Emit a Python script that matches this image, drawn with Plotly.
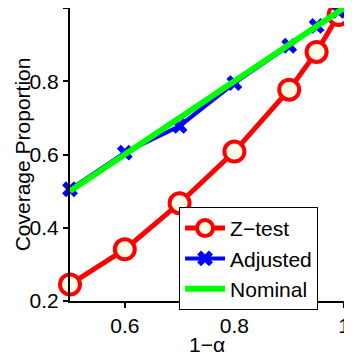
import plotly.graph_objects as go

# confidence levels 1-alpha
conf_levels = [0.5, 0.6, 0.7, 0.8, 0.9, 0.95, 0.99]
# empirical coverage of the plain z-test interval
ztest_coverage = [0.245, 0.341, 0.467, 0.608, 0.777, 0.880, 0.981]
# coverage after adjustment
adjusted_coverage = [0.505, 0.605, 0.678, 0.795, 0.897, 0.951, 0.992]
# nominal coverage (the diagonal)
nominal_x = [0.5, 1.0]
nominal_y = [0.5, 1.0]

FONT = "Liberation Sans, Arial, sans-serif"
FSIZE = 21

fig = go.Figure()

fig.add_trace(
    go.Scatter(
        x=conf_levels,
        y=ztest_coverage,
        mode="lines+markers",
        name="Z\u2212test",
        cliponaxis=False,
        line=dict(color="#ff0000", width=5),
        marker=dict(
            symbol="circle",
            size=20,
            color="#fffde8",
            line=dict(color="#ff0000", width=4),
        ),
    )
)
fig.add_trace(
    go.Scatter(
        x=conf_levels,
        y=adjusted_coverage,
        mode="lines+markers",
        name="Adjusted",
        cliponaxis=False,
        line=dict(color="#0000ff", width=4),
        marker=dict(symbol="x", size=14, color="#0000ff"),
    )
)
fig.add_trace(
    go.Scatter(
        x=nominal_x,
        y=nominal_y,
        mode="lines",
        name="Nominal",
        cliponaxis=False,
        line=dict(color="#00ff00", width=6),
    )
)

axis_style = dict(
    showline=True,
    linecolor="black",
    linewidth=2,
    mirror="allticks",
    ticks="outside",
    ticklen=5,
    tickwidth=2,
    tickcolor="black",
    showgrid=False,
    zeroline=False,
    automargin=False,
    tickfont=dict(family=FONT, size=FSIZE, color="black"),
)

title_font = dict(family=FONT, size=FSIZE, color="black")

# the page body adds an 8px offset, so the figure is a bit smaller than the window
fig.update_layout(
    width=344,
    height=348,
    margin=dict(l=62, r=8, t=0, b=55),
    plot_bgcolor="white",
    paper_bgcolor="white",
    showlegend=True,
    legend=dict(
        x=0.398,
        y=0.321,
        xanchor="left",
        yanchor="top",
        bordercolor="black",
        borderwidth=1,
        bgcolor="white",
        font=dict(family=FONT, size=FSIZE, color="black"),
        itemwidth=40,
        tracegroupgap=0,
    ),
    xaxis=dict(
        range=[0.5, 1.0],
        tickvals=[0.6, 0.8, 1.0],
        ticktext=["0.6", "0.8", "1"],
        **axis_style,
    ),
    yaxis=dict(
        range=[0.2, 1.0],
        tickvals=[0.2, 0.4, 0.6, 0.8, 1.0],
        ticktext=["0.2", "0.4", "0.6", "0.8", "1"],
        **axis_style,
    ),
    annotations=[
        dict(
            text="1\u2212\u03b1",
            xref="paper",
            yref="paper",
            x=0.5,
            y=-0.15,
            xanchor="center",
            yanchor="middle",
            showarrow=False,
            font=title_font,
        ),
        dict(
            text="Coverage Proportion",
            xref="paper",
            yref="paper",
            x=-0.172,
            y=0.5,
            xanchor="center",
            yanchor="middle",
            textangle=-90,
            showarrow=False,
            font=title_font,
        ),
    ],
)

fig.write_html("out.html")
